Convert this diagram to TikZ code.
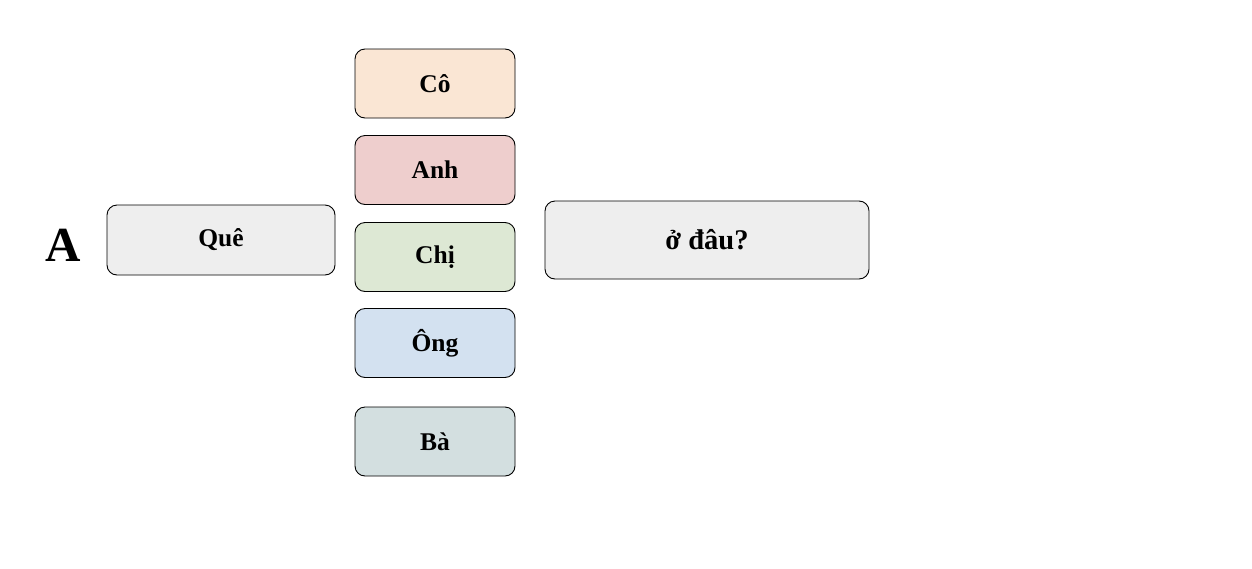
\documentclass[tikz,border=0pt]{standalone}
\usepackage{fontspec}
\setmainfont{Liberation Serif}
\definecolor{cco}{RGB}{250,230,212}
\definecolor{canh}{RGB}{238,206,205}
\definecolor{cchi}{RGB}{221,232,212}
\definecolor{cong}{RGB}{211,225,240}
\definecolor{cba}{RGB}{211,223,224}
\definecolor{cgray}{RGB}{238,238,238}
\begin{document}
\begin{tikzpicture}[x=1pt,y=-1pt,
  wbox/.style={draw=black,line width=0.9pt,rounded corners=10pt,inner sep=0pt,
    font=\fontsize{25.5}{29}\selectfont\bfseries},
  small/.style={wbox,minimum width=160pt,minimum height=69pt}]
\useasboundingbox[fill=white] (0,0) rectangle (1252,568);
\node[font=\fontsize{49}{56}\selectfont\bfseries] (lblA) at (63.5,245) {A};
\node[wbox,fill=cgray,minimum width=228pt,minimum height=70pt] (que) at (221,240) {Quê};
\node[small,fill=cco] (co) at (435,83.5) {Cô};
\node[small,fill=canh] (anh) at (435,170) {Anh};
\node[small,fill=cchi] (chi) at (435,257) {Chị};
\node[small,fill=cong] (ong) at (435,343) {Ông};
\node[small,fill=cba] (ba) at (435,441.5) {Bà};
\node[wbox,fill=cgray,minimum width=324pt,minimum height=78pt,font=\fontsize{28.5}{32}\selectfont\bfseries] (dau) at (707,240) {ở đâu?};
\end{tikzpicture}
\end{document}
